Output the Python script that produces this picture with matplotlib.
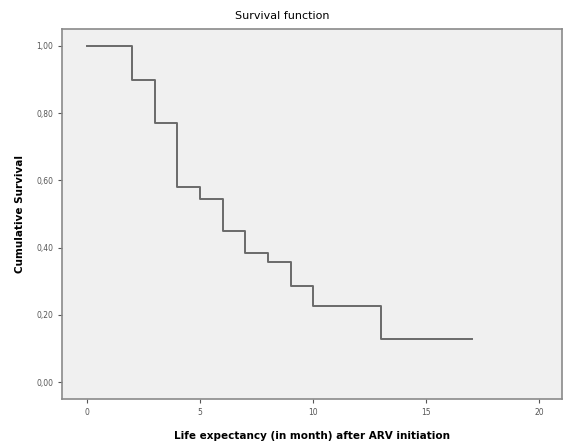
import numpy as np
import matplotlib
matplotlib.use("Agg")
import matplotlib.pyplot as plt

# Kaplan-Meier step data
event_months = [0, 2, 3, 4, 5, 6, 7, 8, 9, 10, 13, 17]
survival     = [1.00, 0.899, 0.772, 0.581, 0.545, 0.449, 0.385, 0.357, 0.287, 0.226, 0.127, 0.127]

x_ticks = [0, 5, 10, 15, 20]
y_ticks = [0.0, 0.2, 0.4, 0.6, 0.8, 1.0]
y_tick_labels = ["0,00", "0,20", "0,40", "0,60", "0,80", "1,00"]

fig = plt.figure(figsize=(5.64, 4.43), dpi=100)
ax = fig.add_axes([0.110, 0.0993, 0.8865, 0.8352])
ax.set_facecolor("#f0f0f0")

ax.step(event_months, survival, where="post", color="#6a6a6a", lw=1.4)

ax.set_xlim(-1.1, 21.0)
ax.set_ylim(-0.05, 1.05)
ax.set_xticks(x_ticks)
ax.set_yticks(y_ticks)
ax.set_yticklabels(y_tick_labels)

for s in ax.spines.values():
    s.set_color("#8a8a8a")
    s.set_linewidth(1.2)
ax.tick_params(axis="both", labelsize=5.5, colors="#555555", length=3, width=0.8)

ax.set_xlabel("Life expectancy (in month) after ARV initiation", fontsize=7.5,
              fontweight="bold", labelpad=10)
ax.set_ylabel("Cumulative Survival", fontsize=7.5, fontweight="bold", labelpad=8)
fig.text(0.5, 0.965, "Survival function", ha="center", va="center", fontsize=8)

fig.savefig("out.png", dpi=100)
